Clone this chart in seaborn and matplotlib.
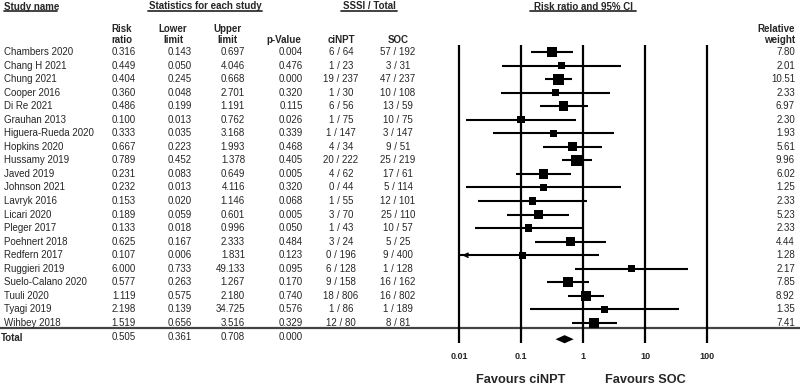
import numpy as np
import pandas as pd
import matplotlib
matplotlib.use('Agg')
import matplotlib.pyplot as plt
import seaborn as sns

studies = ['Chambers 2020', 'Chang H 2021', 'Chung 2021', 'Cooper 2016', 'Di Re 2021',
           'Grauhan 2013', 'Higuera-Rueda 2020', 'Hopkins 2020', 'Hussamy 2019', 'Javed 2019',
           'Johnson 2021', 'Lavryk 2016', 'Licari 2020', 'Pleger 2017', 'Poehnert 2018',
           'Redfern 2017', 'Ruggieri 2019', 'Suelo-Calano 2020', 'Tuuli 2020', 'Tyagi 2019',
           'Wihbey 2018']
risk_ratio = [0.316, 0.449, 0.404, 0.360, 0.486, 0.100, 0.333, 0.667, 0.789, 0.231, 0.232,
              0.153, 0.189, 0.133, 0.625, 0.107, 6.000, 0.577, 1.119, 2.198, 1.519]
lower = [0.143, 0.050, 0.245, 0.048, 0.199, 0.013, 0.035, 0.223, 0.452, 0.083, 0.013,
         0.020, 0.059, 0.018, 0.167, 0.006, 0.733, 0.263, 0.575, 0.139, 0.656]
upper = [0.697, 4.046, 0.668, 2.701, 1.191, 0.762, 3.168, 1.993, 1.378, 0.649, 4.116,
         1.146, 0.601, 0.996, 2.333, 1.831, 49.133, 1.267, 2.180, 34.725, 3.516]
p_value = [0.004, 0.476, 0.000, 0.320, 0.115, 0.026, 0.339, 0.468, 0.405, 0.005, 0.320,
           0.068, 0.005, 0.050, 0.484, 0.123, 0.095, 0.170, 0.740, 0.576, 0.329]
cinpt = ['6 / 64', '1 / 23', '19 / 237', '1 / 30', '6 / 56', '1 / 75', '1 / 147', '4 / 34',
         '20 / 222', '4 / 62', '0 / 44', '1 / 55', '3 / 70', '1 / 43', '3 / 24', '0 / 196',
         '6 / 128', '9 / 158', '18 / 806', '1 / 86', '12 / 80']
soc = ['57 / 192', '3 / 31', '47 / 237', '10 / 108', '13 / 59', '10 / 75', '3 / 147', '9 / 51',
       '25 / 219', '17 / 61', '5 / 114', '12 / 101', '25 / 110', '10 / 57', '5 / 25', '9 / 400',
       '1 / 128', '16 / 162', '16 / 802', '1 / 189', '8 / 81']
weight = [7.80, 2.01, 10.51, 2.33, 6.97, 2.30, 1.93, 5.61, 9.96, 6.02, 1.25, 2.33, 5.23,
          2.33, 4.44, 1.28, 2.17, 7.85, 8.92, 1.35, 7.41]
total = [0.505, 0.361, 0.708, 0.000]
ticks = [0.01, 0.1, 1, 10, 100]
tick_labels = ['0.01', '0.1', '1', '10', '100']

df = pd.DataFrame({'study': studies, 'rr': risk_ratio, 'lo': lower, 'hi': upper,
                   'p': p_value, 'cinpt': cinpt, 'soc': soc, 'w': weight})
df['row'] = np.arange(len(df))
total_row = len(df)

sns.set_style('white')
plt.rcParams['font.family'] = ['Liberation Sans', 'DejaVu Sans']

fig = plt.figure(figsize=(8, 3.88), dpi=100)
ylim = (24.80, -3.84)

# table part, x in pixel-like units
ax_t = fig.add_axes([0, 0, 1, 1])
ax_t.set_xlim(0, 800)
ax_t.set_ylim(*ylim)
ax_t.axis('off')

fs = 7
hb = dict(fontsize=fs, fontweight='bold')
ax_t.text(4, -3.3, 'Study name', ha='left', va='center', **hb)
ax_t.plot([4, 57], [-3.0, -3.0], color='#333333', lw=1.3)
ax_t.text(205, -3.4, 'Statistics for each study', ha='center', va='center', **hb)
ax_t.plot([148, 262], [-3.0, -3.0], color='#333333', lw=1.3)
ax_t.text(369, -3.4, 'SSSI / Total', ha='center', va='center', **hb)
ax_t.plot([341, 397], [-3.0, -3.0], color='#333333', lw=1.3)
ax_t.text(583, -3.3, 'Risk ratio and 95% CI', ha='center', va='center', **hb)
ax_t.plot([530, 636], [-3.0, -3.0], color='#333333', lw=1.3)

hdr = [(122, 'Risk\nratio'), (173, 'Lower\nlimit'), (227, 'Upper\nlimit'),
       (284, '\np-Value'), (341, '\nciNPT'), (398, '\nSOC')]
for x, s in hdr:
    ax_t.text(x, -1.3, s, ha='center', va='center', linespacing=1.1, **hb)
ax_t.text(795, -1.3, 'Relative\nweight', ha='right', va='center', linespacing=1.1, **hb)

for _, r in df.iterrows():
    y = r['row']
    ax_t.text(4, y, r['study'], ha='left', va='center', fontsize=fs)
    ax_t.text(136, y, f"{r['rr']:.3f}", ha='right', va='center', fontsize=fs)
    ax_t.text(192, y, f"{r['lo']:.3f}", ha='right', va='center', fontsize=fs)
    ax_t.text(245, y, f"{r['hi']:.3f}", ha='right', va='center', fontsize=fs)
    ax_t.text(303, y, f"{r['p']:.3f}", ha='right', va='center', fontsize=fs)
    ax_t.text(341, y, r['cinpt'], ha='center', va='center', fontsize=fs)
    ax_t.text(398, y, r['soc'], ha='center', va='center', fontsize=fs)
    ax_t.text(795, y, f"{r['w']:.2f}", ha='right', va='center', fontsize=fs)

ax_t.text(1, total_row + 0.1, 'Total', ha='left', va='center', **hb)
for x, v in zip([136, 192, 245, 303], total):
    ax_t.text(x, total_row, f'{v:.3f}', ha='right', va='center', fontsize=fs)
ax_t.axhline(total_row - 0.6, color='#444444', lw=1.6)

# forest part, log scale
ax_f = fig.add_axes([440 / 800, 0, 290 / 800, 1])
ax_f.patch.set_alpha(0)

for t in ticks:
    ax_f.plot([t, t], [-0.52, 21.5], color='black', lw=1.6, solid_capstyle='butt')
ax_f.hlines(df['row'], np.maximum(df['lo'], ticks[0]), df['hi'], color='black', lw=1.5)
for _, r in df[df['lo'] < ticks[0]].iterrows():
    ax_f.annotate('', xy=(ticks[0] * 1.02, r['row']), xytext=(ticks[0] * 1.5, r['row']),
                  arrowprops=dict(arrowstyle='->', color='black', lw=1.2,
                                  mutation_scale=7))
sns.scatterplot(data=df, x='rr', y='row', size='w', sizes=(24, 63), size_norm=(1.25, 10.51),
                marker='s', color='black', linewidth=0, legend=False, ax=ax_f)
ax_f.set_xscale('log')
ax_f.set_xlim(10 ** -2.306, 10 ** 2.371)
ax_f.set_ylim(*ylim)
ax_f.axis('off')

est, lo_t, hi_t = total[0], total[1], total[2]
dy = 0.3
ax_f.fill([lo_t, est, hi_t, est], [total_row + 0.2, total_row + 0.2 - dy,
                                   total_row + 0.2, total_row + 0.2 + dy],
          color='black', lw=0)

for t, lab in zip(ticks, tick_labels):
    ax_f.text(t, 22.45, lab, ha='center', va='center', fontsize=6.5, fontweight='bold')
ax_f.text(0.1, 24.2, 'Favours ciNPT', ha='center', va='center', fontsize=9.2, fontweight='bold')
ax_f.text(10, 24.2, 'Favours SOC', ha='center', va='center', fontsize=9.2, fontweight='bold')

fig.savefig('out.png', dpi=100)
